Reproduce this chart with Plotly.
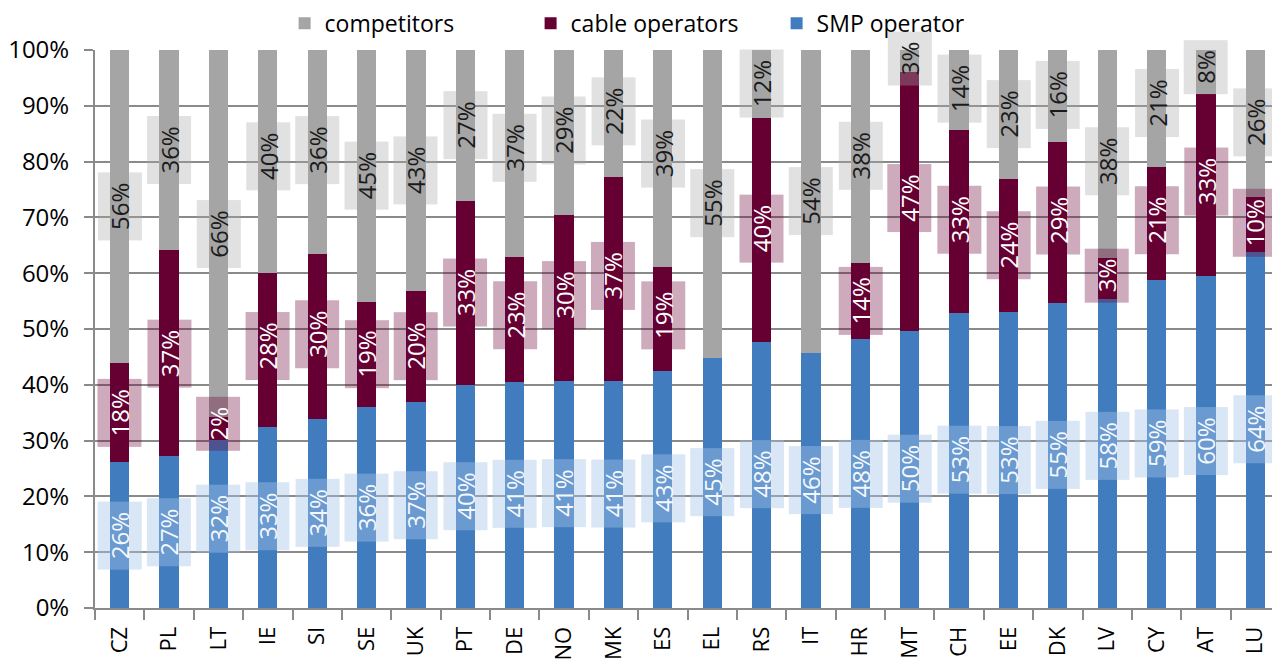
import plotly.graph_objects as go

countries = ["CZ", "PL", "LT", "IE", "SI", "SE", "UK", "PT", "DE", "NO", "MK", "ES",
             "EL", "RS", "IT", "HR", "MT", "CH", "EE", "DK", "LV", "CY", "AT", "LU"]

# bar heights (% of lines)
smp_bar = [26.2, 27.3, 30.1, 32.4, 33.9, 36.0, 36.9, 40.0, 40.5, 40.6, 40.6, 42.5,
           44.8, 47.7, 45.7, 48.2, 49.6, 52.9, 53.0, 54.7, 55.4, 58.8, 59.5, 63.8]
cable_bar = [17.7, 36.9, 4.1, 27.6, 29.5, 18.8, 19.9, 32.9, 22.4, 29.8, 36.6, 18.6,
             0.0, 40.1, 0.0, 13.6, 46.4, 32.8, 23.9, 28.8, 7.3, 20.2, 32.6, 9.9]
comp_bar = [round(100 - s - c, 1) for s, c in zip(smp_bar, cable_bar)]

# data labels printed on the chart
smp_lab = [26, 27, 32, 33, 34, 36, 37, 40, 41, 41, 41, 43,
           45, 48, 46, 48, 50, 53, 53, 55, 58, 59, 60, 64]
cable_lab = [18, 37, 2, 28, 30, 19, 20, 33, 23, 30, 37, 19,
             None, 40, None, 14, 47, 33, 24, 29, 3, 21, 33, 10]
comp_lab = [56, 36, 66, 40, 36, 45, 43, 27, 37, 29, 22, 39,
            55, 12, 54, 38, 3, 14, 23, 16, 38, 21, 8, 26]

C_SMP = "#417DBE"
C_CAB = "#660033"
C_COMP = "#A5A5A5"
FONT = "Open Sans"
FS = 24

fig = go.Figure()
fig.add_trace(go.Bar(x=countries, y=smp_bar, name="SMP operator", marker_color=C_SMP,
                     marker_line_width=0))
fig.add_trace(go.Bar(x=countries, y=cable_bar, name="cable operators", marker_color=C_CAB,
                     marker_line_width=0))
fig.add_trace(go.Bar(x=countries, y=comp_bar, name="competitors", marker_color=C_COMP,
                     marker_line_width=0))


def text_w(s):
    return sum(0.82 * FS if ch == "%" else 0.572 * FS for ch in s)


annotations = []
for i, c in enumerate(countries):
    s = smp_lab[i]
    cb = cable_lab[i] or 0
    cp = comp_lab[i]
    items = [(s, s / 2, "rgba(165,195,230,0.42)", "#F4F8FC")]
    if cable_lab[i] is not None:
        items.append((cb, s + cb / 2, "rgba(102,0,51,0.33)", "#FFFFFF"))
    items.append((cp, s + cb + cp / 2, "rgba(166,166,166,0.34)", "#1A1A1A"))
    for val, ypos, bg, fc in items:
        t = f"{val}%"
        annotations.append(dict(
            x=c, y=ypos, xref="x", yref="y", text=t, showarrow=False,
            textangle=-90, bgcolor=bg, borderpad=5, width=text_w(t) + 10,
            font=dict(family=FONT, size=FS, color=fc),
        ))

fig.update_layout(
    width=1272, height=654,
    margin=dict(l=87, r=0, t=42, b=54, autoexpand=False),
    barmode="stack", bargap=0.61,
    paper_bgcolor="white", plot_bgcolor="white",
    font=dict(family=FONT, size=FS, color="#000000"),
    annotations=annotations,
    legend=dict(orientation="h", traceorder="reversed", x=0.160, xanchor="left",
                y=1.048, yanchor="middle", font=dict(family=FONT, size=23),
                entrywidth=201, entrywidthmode="pixels",
                bgcolor="rgba(0,0,0,0)"),
    showlegend=True,
)
fig.update_yaxes(range=[0, 100], dtick=10, ticksuffix="%", showgrid=True,
                 gridcolor="#8A8A8A", gridwidth=2, showline=True, linecolor="#8A8A8A",
                 linewidth=2, ticks="outside", ticklen=9, tickcolor="#8A8A8A", tickwidth=2,
                 ticklabelstandoff=10, zeroline=False, automargin=False,
                 tickfont=dict(family=FONT, size=FS, color="#000"))
fig.update_xaxes(type="category", tickangle=-90, showline=True, linecolor="#8A8A8A",
                 linewidth=2, ticks="outside", ticklen=10, tickcolor="#8A8A8A", tickwidth=2,
                 tickson="boundaries", automargin=False, showgrid=False,
                 ticklabelstandoff=8,
                 tickfont=dict(family=FONT, size=22, color="#000"))

fig.write_html("out.html")
